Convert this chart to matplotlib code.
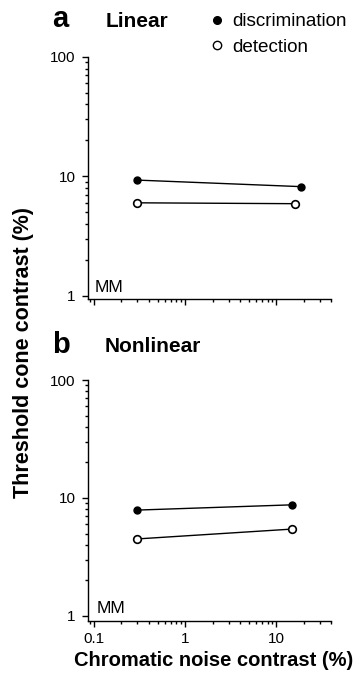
import matplotlib
matplotlib.use("Agg")
import matplotlib.pyplot as plt
from matplotlib.ticker import FixedLocator, FixedFormatter, LogLocator, NullFormatter
from matplotlib.lines import Line2D

plt.rcParams['font.family'] = ['Liberation Sans', 'DejaVu Sans']

# Chromatic noise contrast (%) for the two noise levels
noise_lin_disc = [0.3, 18.5]
noise_lin_det = [0.3, 16.0]
noise_nl_disc = [0.3, 14.7]
noise_nl_det = [0.3, 14.7]

# Threshold cone contrast (%)
linear_discrimination = [9.3, 8.2]
linear_detection = [6.0, 5.9]
nonlinear_discrimination = [7.9, 8.75]
nonlinear_detection = [4.5, 5.45]

y_ticks = [1, 10, 100]
y_tick_labels = ["1", "10", "100"]
x_ticks = [0.1, 1, 10]
x_tick_labels = ["0.1", "1", "10"]

W, H = 363, 679
fig = plt.figure(figsize=(W / 100, H / 100), dpi=100)


def px_axes(left, right, top, bottom):
    return fig.add_axes([left / W, 1 - bottom / H, (right - left) / W, (bottom - top) / H])


def style_axes(ax, ymin, show_xlabels):
    ax.set_xscale('log')
    ax.set_yscale('log')
    ax.set_xlim(0.087, 40)
    ax.set_ylim(ymin, 100)
    for s in ('top', 'right'):
        ax.spines[s].set_visible(False)
    for s in ('left', 'bottom'):
        ax.spines[s].set_linewidth(1.0)
    ax.yaxis.set_major_locator(FixedLocator(y_ticks))
    ax.yaxis.set_major_formatter(FixedFormatter(y_tick_labels))
    ax.yaxis.set_minor_locator(LogLocator(base=10, subs=range(2, 10)))
    ax.yaxis.set_minor_formatter(NullFormatter())
    ax.xaxis.set_major_locator(FixedLocator(x_ticks))
    ax.xaxis.set_minor_locator(LogLocator(base=10, subs=range(2, 10)))
    ax.xaxis.set_minor_formatter(NullFormatter())
    if show_xlabels:
        ax.xaxis.set_major_formatter(FixedFormatter(x_tick_labels))
    else:
        ax.xaxis.set_major_formatter(NullFormatter())
    ax.tick_params(which='major', length=4, width=1.0, labelsize=11, pad=5)
    ax.tick_params(which='minor', length=2.5, width=1.0)
    ax.tick_params(axis='x', which='major', pad=4)


def draw_pair(ax, xd, yd, xe, ye):
    ax.plot(xd, yd, '-', color='black', lw=1.0, marker='o', ms=5,
            mfc='black', mec='black', mew=1.0, zorder=3)
    ax.plot(xe, ye, '-', color='black', lw=1.0, marker='o', ms=5.5,
            mfc='white', mec='black', mew=1.2, zorder=3)


# Panel a: linear
ax_a = px_axes(88.3, 331.4, 57, 299)
style_axes(ax_a, 0.938, False)
draw_pair(ax_a, noise_lin_disc, linear_discrimination, noise_lin_det, linear_detection)
fig.text(95 / W, 1 - 292.5 / H, "MM", fontsize=12.5, ha='left', va='baseline')

# Panel b: nonlinear
ax_b = px_axes(88.3, 331.4, 380, 621)
style_axes(ax_b, 0.907, True)
draw_pair(ax_b, noise_nl_disc, nonlinear_discrimination, noise_nl_det, nonlinear_detection)
fig.text(97 / W, 1 - 613 / H, "MM", fontsize=12.5, ha='left', va='baseline')

# Panel letters and titles
fig.text(52 / W, 1 - 27 / H, "a", fontsize=21, fontweight='bold', ha='left', va='baseline')
fig.text(106 / W, 1 - 27 / H, "Linear", fontsize=15, fontweight='bold', ha='left', va='baseline')
fig.text(52 / W, 1 - 353 / H, "b", fontsize=21, fontweight='bold', ha='left', va='baseline')
fig.text(105 / W, 1 - 352 / H, "Nonlinear", fontsize=15, fontweight='bold', ha='left', va='baseline')

# Legend
fig.add_artist(Line2D([217 / W], [1 - 20 / H], marker='o', ms=5.5, mfc='black', mec='black',
                      transform=fig.transFigure))
fig.add_artist(Line2D([217 / W], [1 - 45 / H], marker='o', ms=6, mfc='white', mec='black',
                      mew=1.0, transform=fig.transFigure))
fig.text(232 / W, 1 - 26.5 / H, "discrimination", fontsize=13.6, ha='left', va='baseline')
fig.text(232 / W, 1 - 51.5 / H, "detection", fontsize=13.6, ha='left', va='baseline')

# Axis labels
fig.text(24 / W, 1 - 353 / H, "Threshold cone contrast (%)", fontsize=15.5, fontweight='bold',
         rotation=90, ha='center', va='center')
fig.text(214 / W, 1 - 660 / H, "Chromatic noise contrast (%)", fontsize=14.5, fontweight='bold',
         ha='center', va='center')

fig.savefig("out.png", dpi=100)
